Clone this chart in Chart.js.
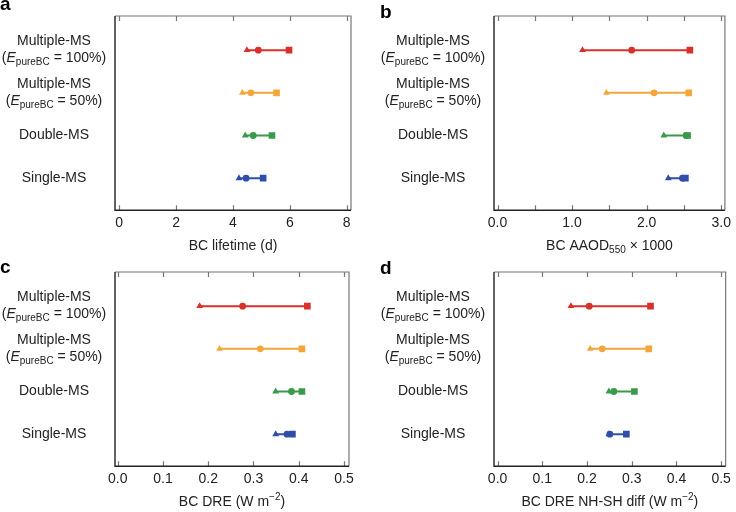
<!DOCTYPE html>
<html>
<head>
<meta charset="utf-8">
<script src="https://cdn.jsdelivr.net/npm/chart.js@4.4.1/dist/chart.umd.min.js"></script>
<style>
  body { margin: 0; background: #fff; }
  .panel { position: absolute; width: 368px; height: 256px; }
</style>
</head>
<body>
<div class="panel" style="left:0;top:0"><canvas id="chartA"></canvas></div>
<div class="panel" style="left:368px;top:0"><canvas id="chartB"></canvas></div>
<div class="panel" style="left:0;top:256px"><canvas id="chartC"></canvas></div>
<div class="panel" style="left:368px;top:256px"><canvas id="chartD"></canvas></div>
<script>
// rows from bottom to top
const categories = ["Single-MS", "Double-MS", "Multiple-MS", "Multiple-MS"];
const efficiency = [null, null, "50%", "100%"];
const rowPos = [1, 2, 3, 4];
const rowColors = ["#2f4ea8", "#399a4b", "#f4a63a", "#d8302b"];

// each row: [triangle, circle, square]
const lifetime = [[4.21, 4.46, 5.06], [4.43, 4.71, 5.37], [4.33, 4.63, 5.53], [4.49, 4.89, 5.97]];
const aaod = [[2.29, 2.48, 2.52], [2.23, 2.53, 2.55], [1.46, 2.10, 2.565], [1.14, 1.80, 2.58]];
const dre = [[0.349, 0.374, 0.386], [0.349, 0.384, 0.407], [0.225, 0.315, 0.407], [0.181, 0.276, 0.419]];
const dreDiff = [[0.249, 0.251, 0.288], [0.249, 0.260, 0.306], [0.207, 0.234, 0.338], [0.164, 0.205, 0.342]];

const lifetimeTicks = [0, 2, 4, 6, 8];
const lifetimeLabels = ["0", "2", "4", "6", "8"];
const aaodTicks = [0, 0.5, 1, 1.5, 2, 2.5, 3];
const aaodLabels = ["0.0", "", "1.0", "", "2.0", "", "3.0"];
const dreTicks = [0, 0.1, 0.2, 0.3, 0.4, 0.5];
const dreLabels = ["0.0", "0.1", "0.2", "0.3", "0.4", "0.5"];

const FONT = '"Liberation Sans", Arial, sans-serif';

function fontFor(s) {
    if (s === "it") return "italic 14px " + FONT;
    if (s === "sub" || s === "sup") return "10px " + FONT;
    return "14px " + FONT;
}

// draws a line of text with italic / sub / sup parts, centred on cx
function drawRich(ctx, parts, cx, cy) {
    let w = 0;
    parts.forEach(p => { ctx.font = fontFor(p.s); w += ctx.measureText(p.t).width; });
    let x = cx - w / 2;
    ctx.textAlign = "left";
    ctx.textBaseline = "middle";
    parts.forEach(p => {
        ctx.font = fontFor(p.s);
        const dy = p.s === "sub" ? 4 : p.s === "sup" ? -5 : 0;
        ctx.fillText(p.t, x, cy + dy);
        x += ctx.measureText(p.t).width;
    });
}

const framePlugin = {
    id: "frame",
    afterDraw(chart, args, opts) {
        const { ctx, chartArea: a, scales: { x, y } } = chart;
        ctx.save();

        // inward ticks top and bottom
        ctx.strokeStyle = "#777";
        ctx.lineWidth = 1.2;
        x.ticks.forEach(t => {
            const px = Math.round(x.getPixelForValue(t.value)) + 0.5;
            ctx.beginPath();
            ctx.moveTo(px, a.top); ctx.lineTo(px, a.top + 5);
            ctx.moveTo(px, a.bottom); ctx.lineTo(px, a.bottom - 5);
            ctx.stroke();
        });

        // box
        ctx.beginPath();
        ctx.moveTo(a.left, a.top); ctx.lineTo(a.right, a.top); ctx.lineTo(a.right, a.bottom);
        ctx.stroke();
        ctx.strokeStyle = "#222";
        ctx.lineWidth = 1.4;
        ctx.beginPath();
        ctx.moveTo(a.left, a.top); ctx.lineTo(a.left, a.bottom); ctx.lineTo(a.right, a.bottom);
        ctx.stroke();

        // category labels
        ctx.fillStyle = "#222";
        const cx = a.left - 61;
        categories.forEach((c, i) => {
            const py = y.getPixelForValue(rowPos[i]);
            if (efficiency[i]) {
                drawRich(ctx, [{ t: c }], cx, py - 9);
                drawRich(ctx, [{ t: "(" }, { t: "E", s: "it" }, { t: "pureBC", s: "sub" },
                    { t: " = " + efficiency[i] + ")" }], cx, py + 8);
            } else {
                drawRich(ctx, [{ t: c }], cx, py);
            }
        });

        // axis title
        drawRich(ctx, opts.title, (a.left + a.right) / 2, a.bottom + 36);

        // panel letter
        ctx.font = "bold 19px " + FONT;
        ctx.textAlign = "left";
        ctx.textBaseline = "alphabetic";
        ctx.fillStyle = "#000";
        ctx.fillText(opts.letter, opts.lx, opts.ly);
        ctx.restore();
    }
};

function makePanel(id, values, ticks, labels, xmin, xmax, pad, title, letter, lx, ly) {
    const datasets = values.map((row, i) => ({
        data: row.map(v => ({ x: v, y: rowPos[i] })),
        showLine: true,
        borderColor: rowColors[i],
        backgroundColor: rowColors[i],
        borderWidth: 2,
        pointStyle: ["triangle", "circle", "rect"],
        pointRadius: [3.9, 3.4, 4.7],
        pointBorderWidth: 0
    }));

    new Chart(document.getElementById(id), {
        type: "scatter",
        data: { datasets },
        options: {
            responsive: true,
            maintainAspectRatio: false,
            animation: false,
            layout: { padding: pad },
            plugins: {
                legend: { display: false },
                tooltip: { enabled: false },
                frame: { title, letter, lx, ly }
            },
            scales: {
                x: {
                    type: "linear",
                    min: xmin,
                    max: xmax,
                    afterBuildTicks: s => { s.ticks = ticks.map(v => ({ value: v })); },
                    ticks: {
                        callback: (v, i) => labels[i],
                        autoSkip: false,
                        maxRotation: 0,
                        padding: 5,
                        color: "#222",
                        font: { family: FONT, size: 14 }
                    },
                    grid: { display: false, drawTicks: false },
                    border: { display: false }
                },
                y: {
                    type: "linear",
                    display: false,
                    min: 0.25,
                    max: 4.8
                }
            }
        },
        plugins: [framePlugin]
    });
}

makePanel("chartA", lifetime, lifetimeTicks, lifetimeLabels, -0.15, 8.15,
    { left: 115, right: 17, top: 16, bottom: 19 },
    [{ t: "BC lifetime (d)" }], "a", 0, 10);
makePanel("chartB", aaod, aaodTicks, aaodLabels, -0.047, 3.05,
    { left: 126, right: 5, top: 16, bottom: 19 },
    [{ t: "BC AAOD" }, { t: "550", s: "sub" }, { t: " \u00d7 1000" }], "b", 12, 18);
makePanel("chartC", dre, dreTicks, dreLabels, -0.006, 0.511,
    { left: 115, right: 19, top: 16, bottom: 19 },
    [{ t: "BC DRE (W m" }, { t: "\u22122", s: "sup" }, { t: ")" }], "c", 0, 17);
makePanel("chartD", dreDiff, dreTicks, dreLabels, -0.008, 0.51,
    { left: 126, right: 5, top: 16, bottom: 19 },
    [{ t: "BC DRE NH-SH diff (W m" }, { t: "\u22122", s: "sup" }, { t: ")" }], "d", 12, 18);
</script>
</body>
</html>
